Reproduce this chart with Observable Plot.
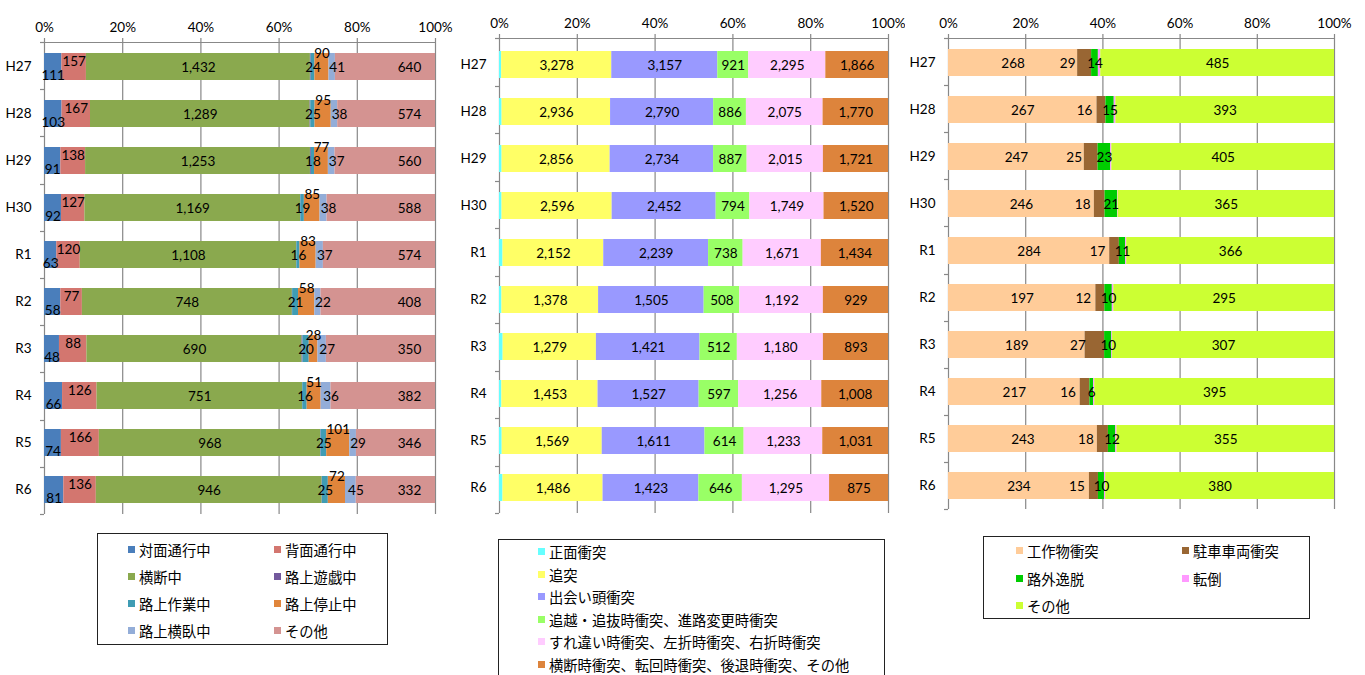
<!DOCTYPE html>
<html><head><meta charset="utf-8">
<script src="https://cdn.jsdelivr.net/npm/d3@7"></script>
<script src="https://cdn.jsdelivr.net/npm/@observablehq/plot@0.6"></script>
<style>
body{margin:0;background:#fff;}
#root{position:relative;width:1365px;height:675px;overflow:hidden;background:#fff;}
.panel{position:absolute;top:0;}
.panel svg{background:transparent;}
.legend{position:absolute;border:1px solid #222;background:#fff;font-family:"Noto Sans CJK JP",sans-serif;font-size:14.3px;color:#000;box-sizing:border-box;}
.item{position:absolute;white-space:nowrap;line-height:15px;height:15px;}
.sw{position:absolute;width:7px;height:7px;top:4px;}
.lt{position:absolute;top:0;}
</style></head><body><div id="root"></div>
<script>
// ---------- data ----------
const years = ["H27","H28","H29","H30","R1","R2","R3","R4","R5","R6"];
const xTicks = [0, 0.2, 0.4, 0.6, 0.8, 1];

// Panel 1
const p1Cats = ["対面通行中","背面通行中","横断中","路上遊戯中","路上作業中","路上停止中","路上横臥中","その他"];
const p1Colors = ["#4A7EBB","#D3766F","#8AA94E","#73599D","#3F9CB4","#E0853B","#93ADD8","#D49391"];
const p1Taimen  = [111,103,91,92,63,58,48,66,74,81];
const p1Haimen  = [157,167,138,127,120,77,88,126,166,136];
const p1Oudan   = [1432,1289,1253,1169,1108,748,690,751,968,946];
const p1Yuugi   = [5,4,5,2,1,1,3,1,2,1];
const p1Sagyou  = [24,25,18,19,16,21,20,16,25,25];
const p1Teishi  = [90,95,77,85,83,58,28,51,101,72];
const p1Ouga    = [41,38,37,38,37,22,27,36,29,45];
const p1Sonota  = [640,574,560,588,574,408,350,382,346,332];

// Panel 2
const p2Cats = ["正面衝突","追突","出会い頭衝突","追越・追抜時衝突、進路変更時衝突","すれ違い時衝突、左折時衝突、右折時衝突","横断時衝突、転回時衝突、後退時衝突、その他"];
const p2Colors = ["#66FFFF","#FFFF66","#9999FF","#99FF66","#FFCCFF","#DD843C"];
const p2Shoumen = [65,70,68,60,75,35,50,36,42,52];
const p2Tsuitotsu = [3278,2936,2856,2596,2152,1378,1279,1453,1569,1486];
const p2Deai = [3157,2790,2734,2452,2239,1505,1421,1527,1611,1423];
const p2Oikoshi = [921,886,887,794,738,508,512,597,614,646];
const p2Surechigai = [2295,2075,2015,1749,1671,1192,1180,1256,1233,1295];
const p2Oudan = [1866,1770,1721,1520,1434,929,893,1008,1031,875];

// Panel 3
const p3Cats = ["工作物衝突","駐車車両衝突","路外逸脱","転倒","その他"];
const p3Colors = ["#FFCC99","#996633","#00CC00","#FF99FF","#CCFF33"];
const p3Kousaku = [268,267,247,246,284,197,189,217,243,234];
const p3Chusha = [29,16,25,18,17,12,27,16,18,15];
const p3Rogai = [14,15,23,21,11,10,10,6,12,10];
const p3Tentou = [5,3,2,1,2,2,1,2,2,2];
const p3Sonota = [485,393,405,365,366,295,307,395,355,380];

// ---------- build ----------
const GRID = "#888888";
const FONT = "Lato, 'Noto Sans CJK JP', sans-serif";
const fmt = d3.format(",");

function longData(cats, series) {
  const out = [];
  years.forEach((y, i) => cats.forEach((c, j) => out.push({year: y, cat: c, value: series[j][i]})));
  return out;
}

function frameMark(index, scales, values, dims) {
  const {width, height, marginLeft, marginRight, marginTop, marginBottom} = dims;
  const g = d3.create("svg:g").attr("stroke", GRID).attr("fill", "none").attr("stroke-width", 1.2);
  g.append("line").attr("x1", marginLeft - 4).attr("x2", width - marginRight + 0.5)
    .attr("y1", marginTop + 0.5).attr("y2", marginTop + 0.5);
  const n = years.length, step = (height - marginTop - marginBottom) / n;
  for (let k = 0; k <= n; k++) {
    const y = Math.round(marginTop + k * step) + 0.5;
    g.append("line").attr("x1", marginLeft - 4).attr("x2", marginLeft).attr("y1", y).attr("y2", y);
  }
  return g.node();
}

function panel(cfg) {
  const data = longData(cfg.cats, cfg.series);
  const marks = [
    Plot.ruleX(xTicks, {stroke: GRID, strokeWidth: 1.2, insetTop: -4}),
    Plot.barX(data, Plot.stackX({x: "value", y: "year", fill: "cat", offset: "normalize"})),
    frameMark
  ];
  cfg.labels.forEach((spec, j) => {
    if (!spec) return;
    const c = cfg.cats[j];
    const stacker = spec.end ? Plot.stackX2 : Plot.stackX;
    marks.push(Plot.text(data, stacker({
      x: "value", y: "year", offset: "normalize",
      text: d => d.cat === c ? fmt(d.value) : null,
      dx: spec.dx || 0, dy: spec.dy || 0,
      fill: "#000", fontSize: 13.5
    })));
  });
  const svg = Plot.plot({
    width: cfg.width, height: 530,
    marginLeft: cfg.mL, marginRight: cfg.mR, marginTop: cfg.mT, marginBottom: cfg.mB,
    style: {fontFamily: FONT, fontSize: "13.5px", color: "#000", background: "transparent", maxWidth: "none"},
    x: {domain: [0, 1], axis: "top", ticks: xTicks, tickFormat: d3.format(".0%"), tickSize: 0, tickPadding: 11, label: null},
    y: {domain: years, paddingInner: 0.43, paddingOuter: 0.215, tickSize: 0, tickPadding: 13, label: null},
    color: {domain: cfg.cats, range: cfg.colors},
    marks
  });
  const div = document.createElement("div");
  div.className = "panel";
  div.style.left = cfg.left + "px";
  div.style.width = cfg.width + "px";
  div.appendChild(svg);
  document.getElementById("root").appendChild(div);
}

function legend(cfg) {
  const box = document.createElement("div");
  box.className = "legend";
  Object.assign(box.style, {left: cfg.left + "px", top: cfg.top + "px", width: cfg.w + "px", height: cfg.h + "px"});
  cfg.cats.forEach((c, j) => {
    const col = j % cfg.cols, row = Math.floor(j / cfg.cols);
    const it = document.createElement("div");
    it.className = "item";
    it.style.left = cfg.colX[col] + "px";
    it.style.top = (cfg.row0 + row * cfg.rowH - 7.5) + "px";
    const sw = document.createElement("div");
    sw.className = "sw"; sw.style.background = cfg.colors[j]; sw.style.left = "0px";
    const t = document.createElement("div");
    t.className = "lt"; t.style.left = "11px"; t.textContent = c;
    it.appendChild(sw); it.appendChild(t);
    box.appendChild(it);
  });
  document.getElementById("root").appendChild(box);
}

panel({
  cats: p1Cats, colors: p1Colors,
  series: [p1Taimen, p1Haimen, p1Oudan, p1Yuugi, p1Sagyou, p1Teishi, p1Ouga, p1Sonota],
  left: 0, width: 460, mL: 44, mR: 25, mT: 42, mB: 16,
  labels: [{dy: 9}, {dy: -5}, {dy: 1}, null, {dy: 1}, {dy: -13}, {dx: 5, dy: 1}, {end: true, dx: -26, dy: 1}]
});
panel({
  cats: p2Cats, colors: p2Colors,
  series: [p2Shoumen, p2Tsuitotsu, p2Deai, p2Oikoshi, p2Surechigai, p2Oudan],
  left: 455, width: 450, mL: 44, mR: 17, mT: 38, mB: 17,
  labels: [null, {dy: 1}, {dy: 1}, {dy: 1}, {dy: 1}, {dy: 1}]
});
panel({
  cats: p3Cats, colors: p3Colors,
  series: [p3Kousaku, p3Chusha, p3Rogai, p3Tentou, p3Sonota],
  left: 905, width: 460, mL: 43, mR: 31, mT: 38, mB: 21,
  labels: [{dy: 1}, {dx: -17, dy: 1}, {dy: 1}, null, {dy: 1}]
});

legend({cats: p1Cats, colors: p1Colors, left: 97, top: 533, w: 291, h: 112, cols: 2, colX: [30, 176], row0: 15, rowH: 27.3});
legend({cats: p2Cats, colors: p2Colors, left: 498, top: 539, w: 387, h: 160, cols: 1, colX: [39], row0: 11.5, rowH: 22.6});
legend({cats: p3Cats, colors: p3Colors, left: 983, top: 536, w: 327, h: 83, cols: 2, colX: [32, 198], row0: 13.5, rowH: 27.7});
</script></body></html>
